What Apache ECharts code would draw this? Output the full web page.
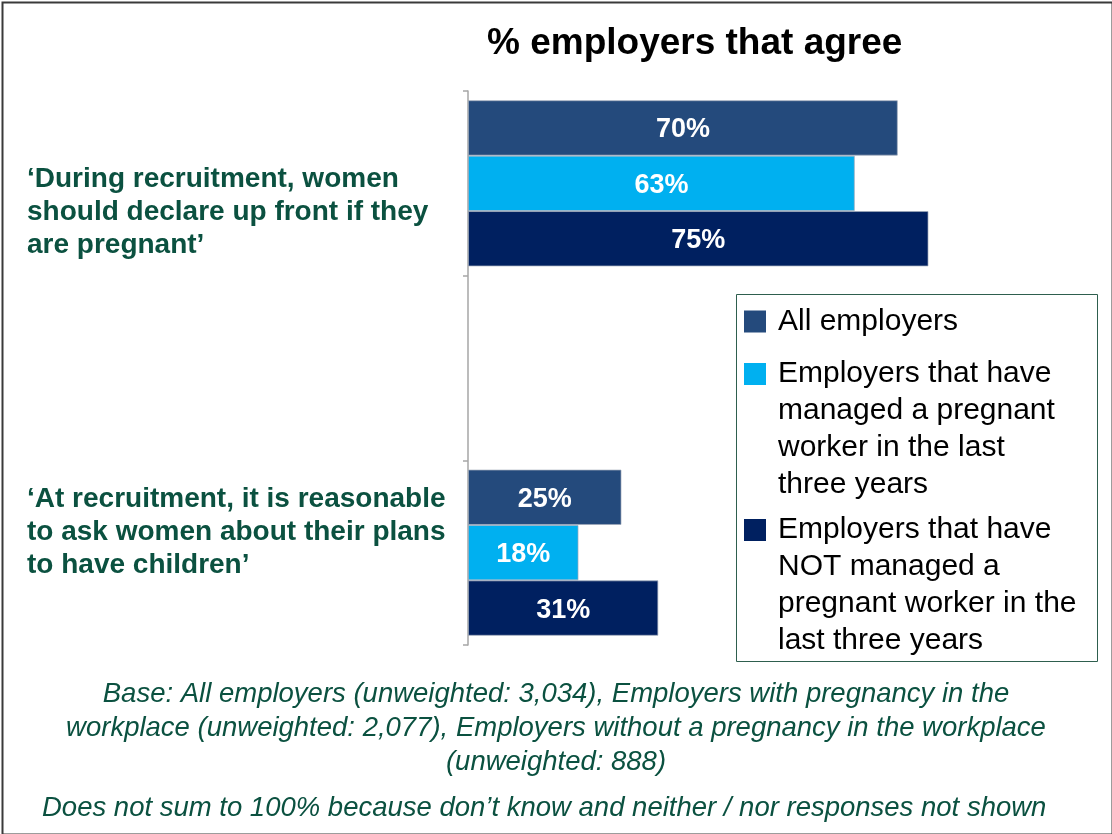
<!DOCTYPE html>
<html>
<head>
<meta charset="utf-8">
<script src="https://cdn.jsdelivr.net/npm/echarts@6/dist/echarts.min.js"></script>
<style>
  html, body { margin: 0; padding: 0; background: #fff; }
  #chart { width: 1112px; height: 834px; }
</style>
</head>
<body>
<div id="chart"></div>
<script>
// Statements asked about (the middle slot is an empty spacer band)
const categories = [
  '‘During recruitment, women\nshould declare up front if they\nare pregnant’',
  '',
  '‘At recruitment, it is reasonable\nto ask women about their plans\nto have children’'
];

// Employer groups and their wrapped legend text
const seriesNames = [
  'All employers',
  'Employers that have managed a pregnant worker in the last three years',
  'Employers that have NOT managed a pregnant worker in the last three years'
];
const legendLines = [
  ['All employers'],
  ['Employers that have', 'managed a pregnant', 'worker in the last', 'three years'],
  ['Employers that have', 'NOT managed a', 'pregnant worker in the', 'last three years']
];

// % agreeing, per statement (null = spacer band)
const allEmployers = [70, null, 25];
const managedPregnant = [63, null, 18];
const notManagedPregnant = [75, null, 31];

const footnotes = [
  'Base: All employers (unweighted: 3,034), Employers with pregnancy in the\nworkplace (unweighted: 2,077), Employers without a pregnancy in the workplace\n(unweighted: 888)',
  'Does not sum to 100% because don’t know and neither / nor responses not shown'
];

const colors = ['#244a7c', '#00b0f0', '#002060'];
const green = '#0b5140';
const font = '"Liberation Sans", Arial, sans-serif';
const legendLH = 37;      // legend line height
const swatch = 22;        // legend swatch size
const legendFirstLine = [321.5, 374, 530];  // centre of each entry's first line

const chart = echarts.init(document.getElementById('chart'), null, { renderer: 'canvas' });

const makeSeries = (i, data) => ({
  name: seriesNames[i],
  type: 'bar',
  data: data,
  barGap: 0,
  barCategoryGap: '10%',
  itemStyle: { color: colors[i], borderColor: 'rgba(160,170,185,0.7)', borderWidth: 1 },
  label: {
    show: true,
    position: 'inside',
    offset: [0, 2],
    formatter: p => p.value + '%',
    color: '#fff',
    fontFamily: font,
    fontWeight: 'bold',
    fontSize: 27
  }
});

// Statement labels to the left of the axis
const categoryTops = [163, 483];
const categoryText = categories
  .filter(c => c !== '')
  .map((c, i) => ({
    type: 'text',
    left: 27,
    top: categoryTops[i],
    style: {
      text: c,
      font: 'bold 28px ' + font,
      lineHeight: 33,
      fill: green
    }
  }));

// One legend block per group: the swatch sits level with the first text line,
// so the icon box spans the whole text block and the square is drawn at its top
const makeLegend = i => {
  const h = legendLines[i].length * legendLH;
  const y0 = legendLH / 2 - swatch / 2;
  return {
    orient: 'vertical',
    left: 744,
    top: legendFirstLine[i] - legendLH / 2,
    padding: 0,
    itemWidth: swatch,
    itemHeight: h,
    symbolKeepAspect: false,
    icon: 'path://M0,' + y0 + 'H' + swatch + 'V' + (y0 + swatch) + 'H0Z' +
          'M0,0L' + swatch + ',0M0,' + h + 'L' + swatch + ',' + h,
    itemStyle: { borderWidth: 0 },
    selectedMode: false,
    textStyle: {
      fontFamily: font,
      fontSize: 30,
      lineHeight: legendLH,
      color: '#000',
      padding: [0, 0, 0, 7]
    },
    data: [seriesNames[i]],
    formatter: () => legendLines[i].join('\n')
  };
};

chart.setOption({
  animation: false,
  backgroundColor: '#fff',
  title: {
    text: '% employers that agree',
    left: 482,
    top: 20,
    textStyle: { fontFamily: font, fontWeight: 'bold', fontSize: 37, color: '#000' }
  },
  grid: { left: 468, right: 30, top: 91, bottom: 189, containLabel: false, outerBoundsMode: 'none' },
  xAxis: {
    type: 'value',
    min: 0,
    max: 100,
    show: false
  },
  yAxis: {
    type: 'category',
    inverse: true,
    data: categories,
    axisLine: { show: true, lineStyle: { color: '#a6a6a6', width: 1.5 } },
    axisTick: { show: true, length: 5, lineStyle: { color: '#a6a6a6', width: 1.5 } },
    axisLabel: { show: false }
  },
  legend: [0, 1, 2].map(makeLegend),
  graphic: [
    {
      type: 'rect',
      left: 0, top: 0,
      shape: { x: 1, y: 1, width: 1110, height: 832 },
      style: { fill: 'none', stroke: '#3a3a3a', lineWidth: 2 },
      silent: true
    },
    // legend frame
    {
      type: 'rect',
      shape: { x: 736.5, y: 294.5, width: 361, height: 367 },
      style: { fill: 'none', stroke: '#2e5e4e', lineWidth: 1 },
      silent: true,
      z: 10
    },
    ...categoryText,
    {
      type: 'text',
      left: 'center',
      top: 677,
      style: {
        text: footnotes[0],
        textAlign: 'center',
        font: 'italic 27.5px ' + font,
        lineHeight: 34,
        fill: green
      }
    },
    {
      type: 'text',
      left: 42,
      top: 791,
      style: {
        text: footnotes[1],
        font: 'italic 27.5px ' + font,
        lineHeight: 34,
        fill: green
      }
    }
  ],
  series: [
    makeSeries(0, allEmployers),
    makeSeries(1, managedPregnant),
    makeSeries(2, notManagedPregnant)
  ]
});
</script>
</body>
</html>
